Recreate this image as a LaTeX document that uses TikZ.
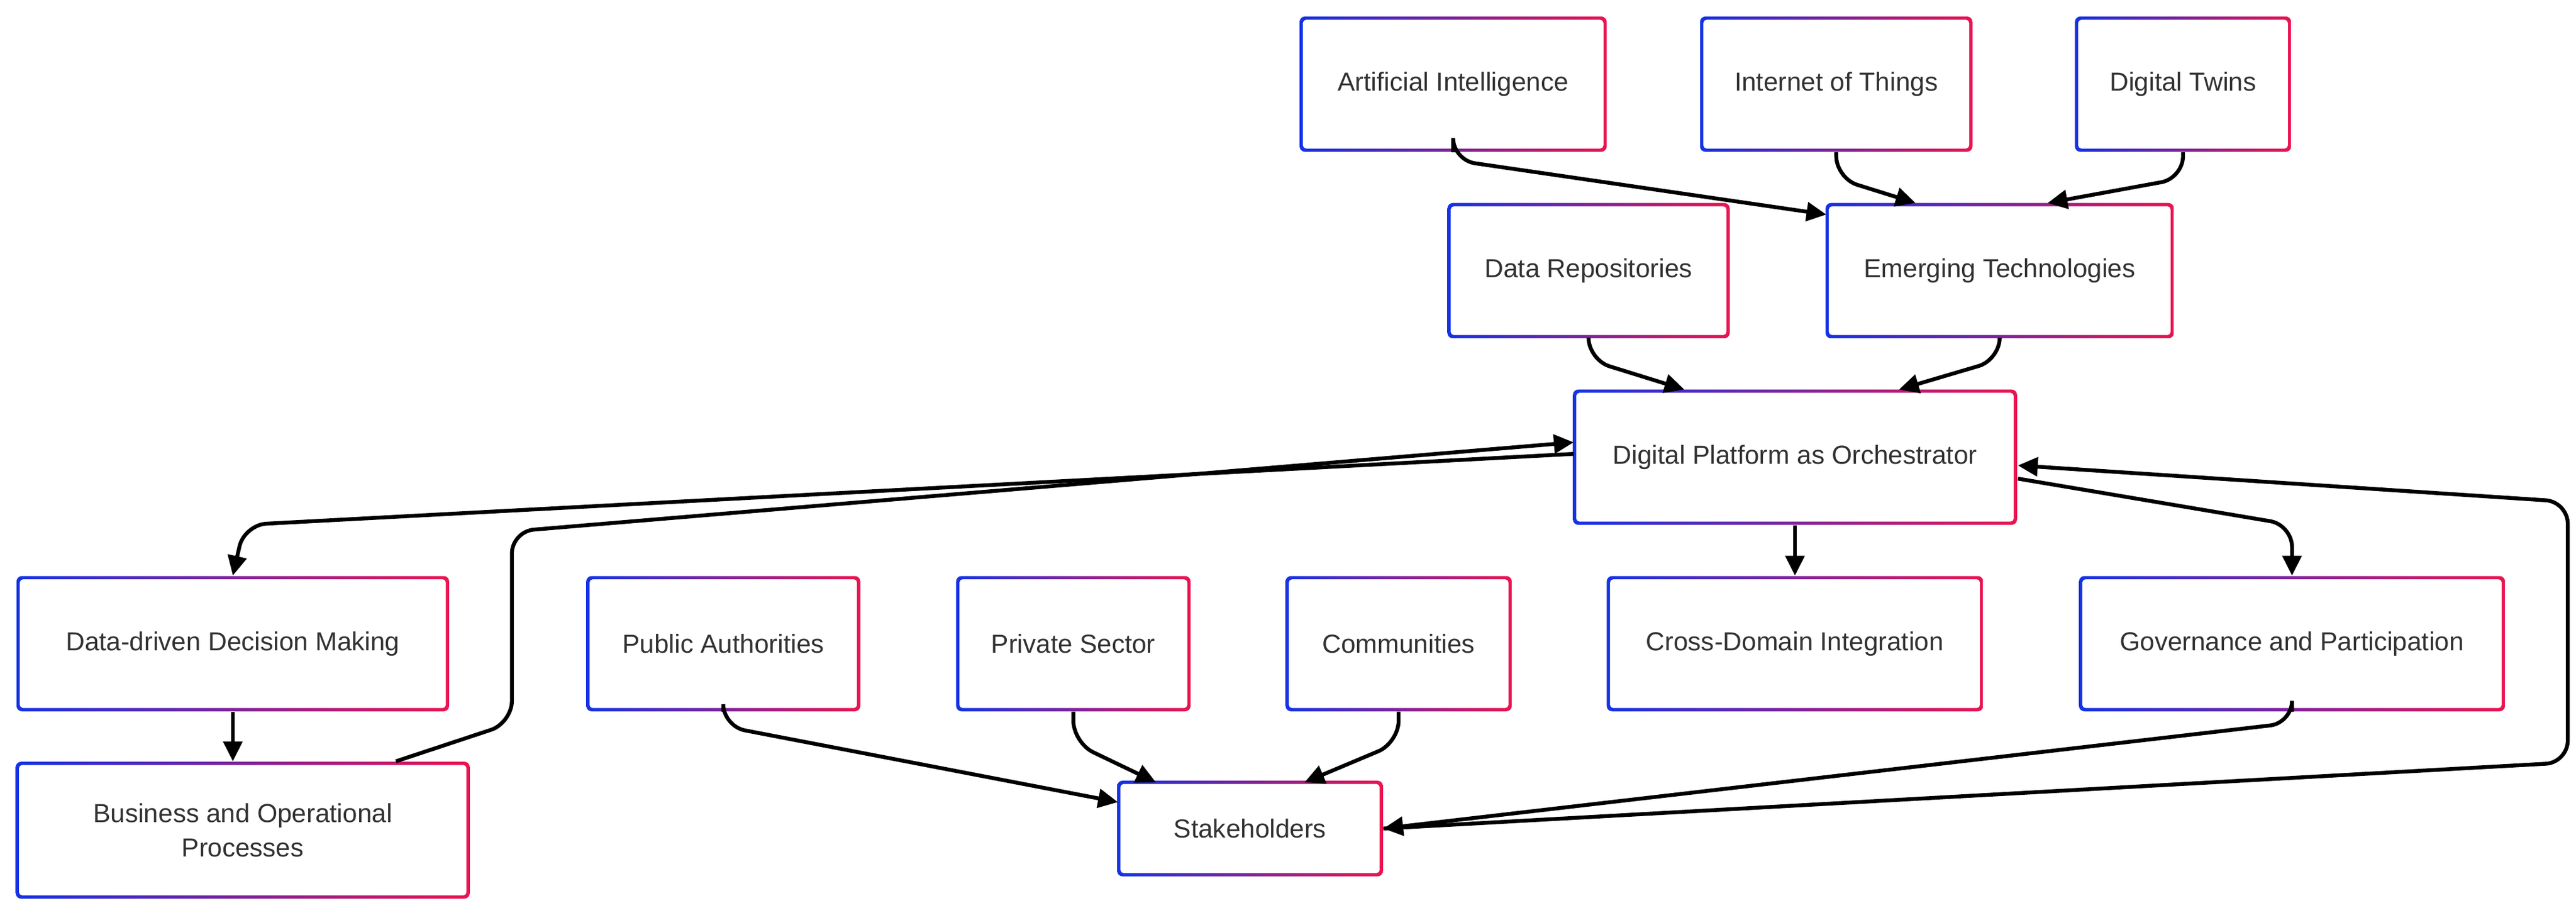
\documentclass[tikz,border=0pt]{standalone}
\usepackage{fontspec}
\setmainfont{Liberation Sans}
\usetikzlibrary{arrows.meta}
\definecolor{bblue}{RGB}{20,50,230}
\definecolor{bred}{RGB}{235,20,80}
\definecolor{txt}{RGB}{50,50,50}
\tikzset{
  box/.style 2 args={rectangle, rounded corners=1mm, left color=bblue, right color=bred,
    minimum width=#1*0.3mm, minimum height=#2*0.3mm, text=txt, align=center,
    font=\fontsize{13.5}{18}\selectfont,
    path picture={\fill[white,rounded corners=0.6mm]
      ([shift={(0.6mm,0.6mm)}]path picture bounding box.south west) rectangle
      ([shift={(-0.6mm,-0.6mm)}]path picture bounding box.north east);}},
  link/.style={-{Triangle[length=3.6mm,width=3.4mm]}, line width=0.7mm, rounded corners=4mm}
}
\begin{document}
\begin{tikzpicture}[x=0.3mm,y=-0.3mm]
\useasboundingbox (0,0) rectangle (1560,550);
% technologies
\node [box={186}{82}] (ai) at (880,51) {Artificial Intelligence};
\node [box={165}{82}] (iot) at (1112,51) {Internet of Things};
\node [box={131}{82}] (dt) at (1322,51) {Digital Twins};
\node [box={171}{82}] (repo) at (962,164) {Data Repositories};
\node [box={211}{82}] (emer) at (1211,164) {Emerging Technologies};
\node [box={269}{82}] (plat) at (1087,277) {Digital Platform as Orchestrator};
% outcomes
\node [box={262}{82}] (ddm) at (141,390) {Data-driven Decision Making};
\node [box={166}{82}] (pub) at (438,390) {Public Authorities};
\node [box={142}{82}] (priv) at (650,390) {Private Sector};
\node [box={137}{82}] (comm) at (847,390) {Communities};
\node [box={228}{82}] (cross) at (1087,390) {Cross-Domain Integration};
\node [box={258}{82}] (gov) at (1388,390) {Governance and Participation};
\node [box={275}{83}] (bus) at (147,503) {Business and Operational\\Processes};
\node [box={161}{58}] (stake) at (757,502) {Stakeholders};

\draw [link] (ai.south) -- (880,97) -- (1106,130);
\draw [link] (iot.south) -- (1112,108) -- (1160,123);
\draw [link] (dt.south) -- (1322,108) -- (1240,123);
\draw [link] (repo.south) -- (962,218) -- (1020,236);
\draw [link] (emer.south) -- (1211,218) -- (1150,236);
\draw [link] (953,275) -- (148,318) -- (ddm.north);
\draw [link] (bus.north east) ++(-45,0) -- (310,438) -- (310,322) -- (953,268);
\draw [link] (ddm.south) -- (bus.north -| ddm.south);
\draw [link] (plat.south) -- (cross.north);
\draw [link] (1222,290) -- (1388,318) -- (gov.north);
\draw [link] (stake.east) -- (1555,462) -- (1555,304) -- (1222,282);
\draw [link] (gov.south) -- (1388,438) -- (stake.east);
\draw [link] (pub.south) -- (438,440) -- (677,486);
\draw [link] (priv.south) -- (650,450) -- (700,474);
\draw [link] (comm.south) -- (847,450) -- (790,474);
\end{tikzpicture}
\end{document}
